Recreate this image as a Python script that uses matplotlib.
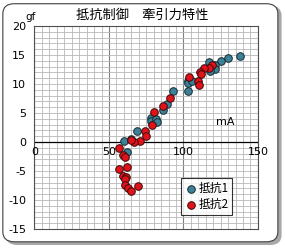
import matplotlib.pyplot as plt
from matplotlib.patches import FancyBboxPatch
from matplotlib.ticker import MultipleLocator

plt.rcParams['font.family'] = ['Noto Sans CJK JP', 'DejaVu Sans']

# 抵抗1 (teal)
r1_x = [138, 130, 125, 117, 121, 121, 118, 103, 103, 106, 103, 93, 89, 86.5,
        78, 78, 81.5, 82, 69, 60, 64.5, 62]
r1_y = [14.8, 14.4, 14.0, 13.8, 13.2, 12.6, 12.2, 10.5, 10.2, 10.6, 8.8, 8.8,
        6.6, 5.6, 4.2, 3.7, 4.0, 3.5, 1.9, 0.2, 0.5, -1.7]

# 抵抗2 (red)
r2_x = [119, 117, 114, 111, 112, 103.5, 110, 110.5, 91, 86, 80, 79, 74, 75,
        71, 67, 64.5, 57, 59.5, 61, 62, 57, 59.5, 61.5, 60.5, 61, 63, 64.5, 69.5]
r2_y = [13.2, 12.7, 12.7, 12.1, 11.7, 11.2, 10.6, 9.8, 7.5, 6.2, 5.2, 2.9, 1.9,
        1.1, 0.2, 0.05, 0.3, -1.0, -2.2, -2.6, -4.3, -4.6, -5.9, -6.1, -6.4,
        -7.5, -7.9, -8.5, -7.6]

x_ticks = [0, 50, 100, 150]
y_ticks = [-15, -10, -5, 0, 5, 10, 15, 20]

fig = plt.figure(figsize=(2.85, 2.48), dpi=100)
fig.patch.set_facecolor('white')

# rounded chart border with a soft shadow
shadow = FancyBboxPatch((0.02, 0.012), 0.968, 0.965, transform=fig.transFigure,
                        boxstyle='round,pad=0,rounding_size=0.04',
                        facecolor='#a8a8a8', edgecolor='none', zorder=-2)
frame = FancyBboxPatch((0.01, 0.025), 0.965, 0.96, transform=fig.transFigure,
                       boxstyle='round,pad=0,rounding_size=0.04',
                       facecolor='white', edgecolor='#404040', linewidth=0.8,
                       zorder=-1)
fig.patches.extend([shadow, frame])

ax = fig.add_axes([0.121, 0.077, 0.784, 0.818])
ax.set_xlim(0, 150)
ax.set_ylim(-15, 20)

# grid
ax.xaxis.set_major_locator(MultipleLocator(50))
ax.xaxis.set_minor_locator(MultipleLocator(5))
ax.yaxis.set_major_locator(MultipleLocator(5))
ax.yaxis.set_minor_locator(MultipleLocator(1))
ax.grid(which='minor', color='#b8b8b8', linewidth=0.6)
ax.grid(which='major', axis='x', color='#808080', linewidth=0.8)
ax.grid(which='major', axis='y', color='#b8b8b8', linewidth=0.6)
ax.set_axisbelow(True)
ax.axhline(0, color='black', linewidth=0.9, zorder=1)

for s in ax.spines.values():
    s.set_color('#505050')
    s.set_linewidth(0.8)

ax.tick_params(which='both', length=0)
ax.set_yticks(y_ticks)
ax.set_yticklabels([str(v) for v in y_ticks], fontsize=8, family='DejaVu Sans')
ax.tick_params(axis='y', pad=6)
ax.set_xticks(x_ticks)
ax.set_xticklabels([])
for v in x_ticks:
    ax.text(v, -0.9, str(v), ha='center', va='top', fontsize=8,
            family='DejaVu Sans', zorder=5)

ax.scatter(r1_x, r1_y, s=30, color='#3b8197', edgecolor='#1a2a30',
           linewidth=0.7, label='抵抗1', zorder=3)
ax.scatter(r2_x, r2_y, s=30, color='#e0121a', edgecolor='#3a0a0a',
           linewidth=0.7, label='抵抗2', zorder=4)

ax.text(128, 3.4, 'mA', ha='center', va='center', fontsize=8,
        family='DejaVu Sans')
fig.text(0.108, 0.93, 'gf', ha='center', va='center', fontsize=7.5,
         family='DejaVu Sans')
fig.text(0.50, 0.94, '抵抗制御　牽引力特性', ha='center', va='center',
         fontsize=9.5)

leg = ax.legend(loc='lower left', bbox_to_anchor=(0.655, 0.07), fontsize=8.5,
                frameon=True, fancybox=False, edgecolor='black',
                handletextpad=0.0, borderpad=0.3, labelspacing=0.3,
                handlelength=1.2, borderaxespad=0)
leg.get_frame().set_linewidth(0.8)

fig.savefig('out.png', dpi=100)
